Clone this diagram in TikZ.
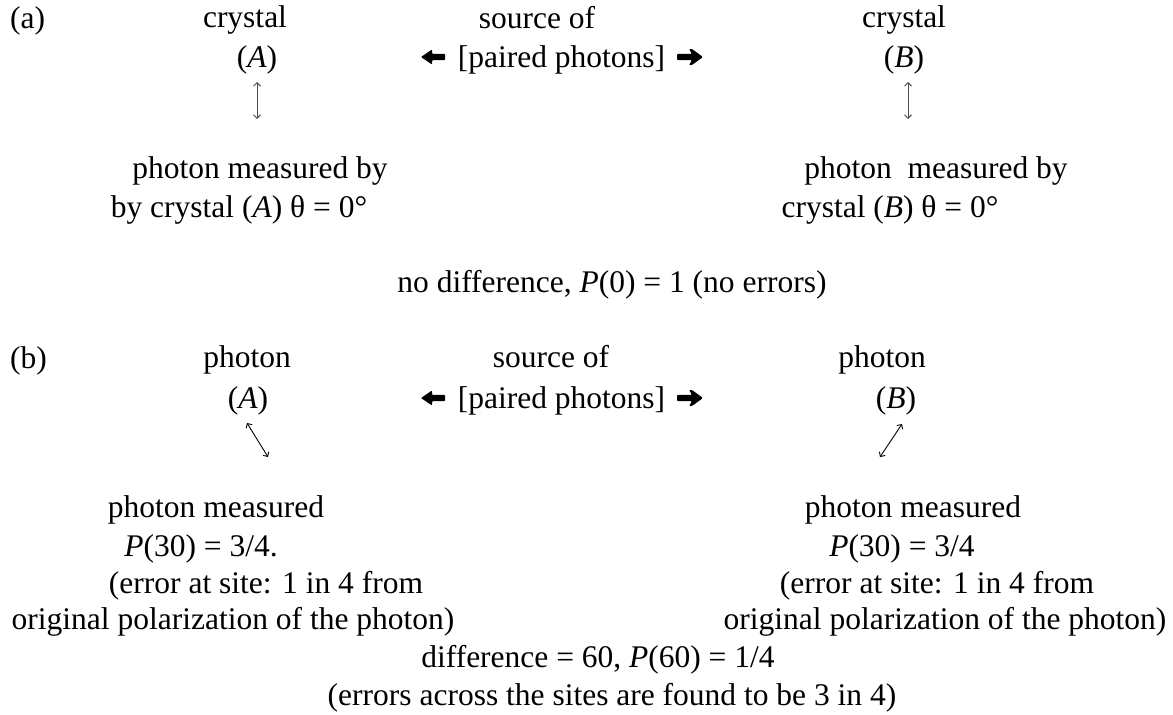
\documentclass[tikz,border=0pt]{standalone}
\usepackage{fontspec}
\setmainfont{Liberation Serif}
\usetikzlibrary{arrows.meta}
\begin{document}
\begin{tikzpicture}[x=1pt,y=-1pt,
  lbl/.style={anchor=base,inner sep=0pt,font=\fontsize{31.5}{38}\selectfont},
  lblw/.style={lbl,anchor=base west},
  polv/.style={draw=black!70,line width=1pt,{Straight Barb[length=3.5pt,width=7pt]}-{Straight Barb[length=3.5pt,width=7pt]}},
  pold/.style={draw=black,line width=0.9pt,{Straight Barb[length=3.5pt,width=7pt]}-{Straight Barb[length=3.5pt,width=7pt]}},
  larr/.pic={\fill[rounded corners=0.8pt] (0,0) -- (11,-7.5) -- (11,-3.2) -- (24,-3.2) -- (24,3.2) -- (11,3.2) -- (11,7.5) -- cycle;},
  rarr/.pic={\fill[rounded corners=1pt] (0,0) -- (-11,-8) -- (-14,-8) -- (-11,-3.2) -- (-26,-3.2) -- (-26,3.2) -- (-11,3.2) -- (-14,8) -- (-11,8) -- cycle;}
]
\useasboundingbox (0,0) rectangle (1173,715);

% ---------- (a) ----------
\node[lblw] (la) at (10,28) {(a)};
\node[lbl] (cA) at (245,27) {crystal};
\node[lbl] (pA) at (257,67) {(\textit{A})};
\node[lbl] (srcA) at (537,28) {source of};
\node[lbl] (ppA) at (561.5,67) {[paired photons]};
\pic at (421,57) {larr};
\pic at (703,57) {rarr};
\node[lbl] (cB) at (904,27) {crystal};
\node[lbl] (pB) at (904,67) {(\textit{B})};

\coordinate (vA1) at (257,82);
\coordinate (vA2) at (257,119);
\coordinate (vB1) at (908,82);
\coordinate (vB2) at (908,119);
\draw[polv] (vA1) -- (vA2);
\draw[polv] (vB1) -- (vB2);

\node[lbl] (mA1) at (260,178) {photon measured by};
\node[lbl] (mA2) at (239,217) {by crystal (\textit{A}) θ = 0°};
\node[lbl] (mB1) at (936,178) {photon\ \ measured by};
\node[lbl] (mB2) at (890,217) {crystal (\textit{B}) θ = 0°};
\node[lbl] (nd) at (612,292) {no difference, \textit{P}(0) = 1 (no errors)};

% ---------- (b) ----------
\node[lblw] (lb) at (10,368) {(b)};
\node[lbl] (phA) at (247,367) {photon};
\node[lbl] (qA) at (248,408) {(\textit{A})};
\node[lbl] (srcB) at (551,367) {source of};
\node[lbl] (ppB) at (561.5,408) {[paired photons]};
\pic at (421,398) {larr};
\pic at (703,398) {rarr};
\node[lbl] (phB) at (882,367) {photon};
\node[lbl] (qB) at (896,408) {(\textit{B})};

\coordinate (dA1) at (247,423);
\coordinate (dA2) at (268,457);
\coordinate (dB1) at (902,424);
\coordinate (dB2) at (880,457);
\draw[pold] (dA1) -- (dA2);
\draw[pold] (dB1) -- (dB2);

\node[lbl] (rA1) at (216,517) {photon measured};
\node[lbl] (rA2) at (201,556) {\textit{P}(30) = 3/4.};
\node[lbl] (rA3) at (266,593) {(error at site: 1 in 4 from};
\node[lbl] (rA4) at (233,629) {original polarization of the photon)};
\node[lbl] (rB1) at (913,517) {photon measured};
\node[lbl] (rB2) at (902,556) {\textit{P}(30) = 3/4};
\node[lbl] (rB3) at (937,593) {(error at site: 1 in 4 from};
\node[lbl] (rB4) at (945,629) {original polarization of the photon)};
\node[lbl] (df) at (598,667) {difference = 60, \textit{P}(60) = 1/4};
\node[lbl] (er) at (612,705) {(errors across the sites are found to be 3 in 4)};
\end{tikzpicture}
\end{document}
